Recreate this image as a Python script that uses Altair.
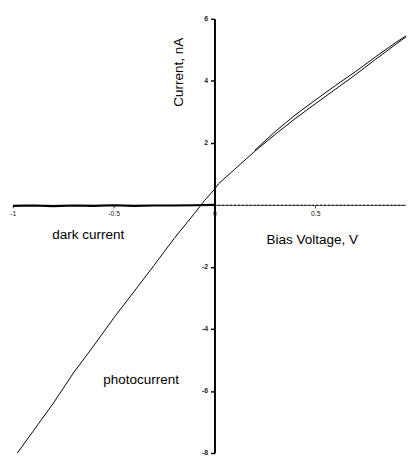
import altair as alt
import pandas as pd

# Photocurrent (lower / forward branch), bias voltage in V, current in nA
photo_v = [-1.0, -0.9, -0.8, -0.7, -0.6, -0.5, -0.4, -0.3, -0.2, -0.1, -0.05,
           0.0, 0.02, 0.1, 0.2, 0.3, 0.4, 0.5, 0.6, 0.7, 0.8, 0.9, 0.95]
photo_i = [-8.2, -7.3, -6.4, -5.42, -4.55, -3.65, -2.8, -1.95, -1.08, -0.28, 0.14,
           0.5, 0.68, 1.15, 1.73, 2.27, 2.78, 3.26, 3.73, 4.2, 4.7, 5.18, 5.42]
# Photocurrent return branch (hysteresis at positive bias)
back_v = [0.2, 0.3, 0.4, 0.5, 0.6, 0.7, 0.8, 0.9, 0.95]
back_i = [1.76, 2.36, 2.9, 3.38, 3.85, 4.3, 4.78, 5.24, 5.45]

# Dark current
dark_neg_v = [-1.0, -0.9, -0.8, -0.7, -0.6, -0.5, -0.4, -0.3, -0.2, -0.1, 0.0]
dark_neg_i = [-0.03, -0.02, -0.04, -0.02, -0.03, -0.01, -0.03, -0.02, -0.02, -0.01, 0.0]
dark_pos_v = [0.0, 0.2, 0.4, 0.6, 0.8, 0.95]
dark_pos_i = [-0.01, -0.01, -0.01, -0.01, -0.01, -0.01]

# Annotations
ann_text = ["dark current", "Bias Voltage, V", "photocurrent"]
ann_v = [-0.626, 0.485, -0.364]
ann_i = [-0.98, -1.13, -5.64]
ylab_text = ["Current, nA"]
ylab_v = [-0.175]
ylab_i = [4.28]

x_ticks = [-1, -0.5, 0, 0.5]
y_ticks = [-8, -6, -4, -2, 0, 2, 4, 6]

XDOM = [-1.0, 0.95]
YDOM = [-8, 6]
W, H = 402, 444

photo = pd.DataFrame({"v": photo_v, "i": photo_i})
back = pd.DataFrame({"v": back_v, "i": back_i})
dneg = pd.DataFrame({"v": dark_neg_v, "i": dark_neg_i})
dpos = pd.DataFrame({"v": dark_pos_v, "i": dark_pos_i})
ann = pd.DataFrame({"t": ann_text, "v": ann_v, "i": ann_i})
ylab = pd.DataFrame({"t": ylab_text, "v": ylab_v, "i": ylab_i})

x_off = -W * (0 - XDOM[0]) / (XDOM[1] - XDOM[0])
y_off = -H * (0 - YDOM[0]) / (YDOM[1] - YDOM[0])

xenc = alt.X("v:Q", scale=alt.Scale(domain=XDOM, nice=False, zero=False),
             axis=alt.Axis(values=x_ticks, title=None, grid=False, offset=y_off,
                           domainColor="#555", domainWidth=1, tickColor="#333",
                           tickSize=3, labelFontSize=7, labelFont="Liberation Sans",
                           labelColor="#222", labelPadding=2, labelFlush=False,
                           labelOverlap=False,
                           labelExpr="toString(datum.value)"))
yenc = alt.Y("i:Q", scale=alt.Scale(domain=YDOM, nice=False, zero=False),
             axis=alt.Axis(values=y_ticks, title=None, grid=False, offset=x_off,
                           domainColor="black", domainWidth=2, tickColor="black",
                           tickWidth=1.5, tickSize=4, labelFontSize=7, labelFontWeight="bold",
                           labelFont="Liberation Sans", labelColor="#222", labelPadding=3,
                           labelFlush=False, labelOverlap=False,
                           labelExpr="datum.value == 0 ? '' : toString(datum.value)"))

dark_neg_line = alt.Chart(dneg).mark_line(color="black", strokeWidth=2.2, clip=True).encode(
    x=xenc, y=yenc, order="v:Q")
dark_pos_line = alt.Chart(dpos).mark_line(color="black", strokeWidth=1, strokeDash=[2, 2],
                                          clip=True).encode(x=xenc, y=yenc, order="v:Q")
photo_line = alt.Chart(photo).mark_line(color="black", strokeWidth=1, clip=True).encode(
    x=xenc, y=yenc, order="v:Q")
back_line = alt.Chart(back).mark_line(color="black", strokeWidth=1, clip=True).encode(
    x=xenc, y=yenc, order="v:Q")

ann_layer = alt.Chart(ann).mark_text(font="Liberation Sans", fontSize=13.8, color="black",
                                     align="center", baseline="middle").encode(
    x=xenc, y=yenc, text="t:N")
ylab_layer = alt.Chart(ylab).mark_text(font="Liberation Sans", fontSize=13.8, color="black",
                                       align="center", baseline="middle", angle=270).encode(
    x=xenc, y=yenc, text="t:N")

chart = alt.layer(
    dark_neg_line, dark_pos_line, photo_line, back_line, ann_layer, ylab_layer
).properties(
    width=W, height=H,
    padding={"left": 5, "top": 6, "right": 0, "bottom": 0},
    autosize=alt.AutoSizeParams(type="none"),
    background="white",
).configure_view(stroke=None)

chart.save("out.html", embed_options={"renderer": "svg", "actions": False})
